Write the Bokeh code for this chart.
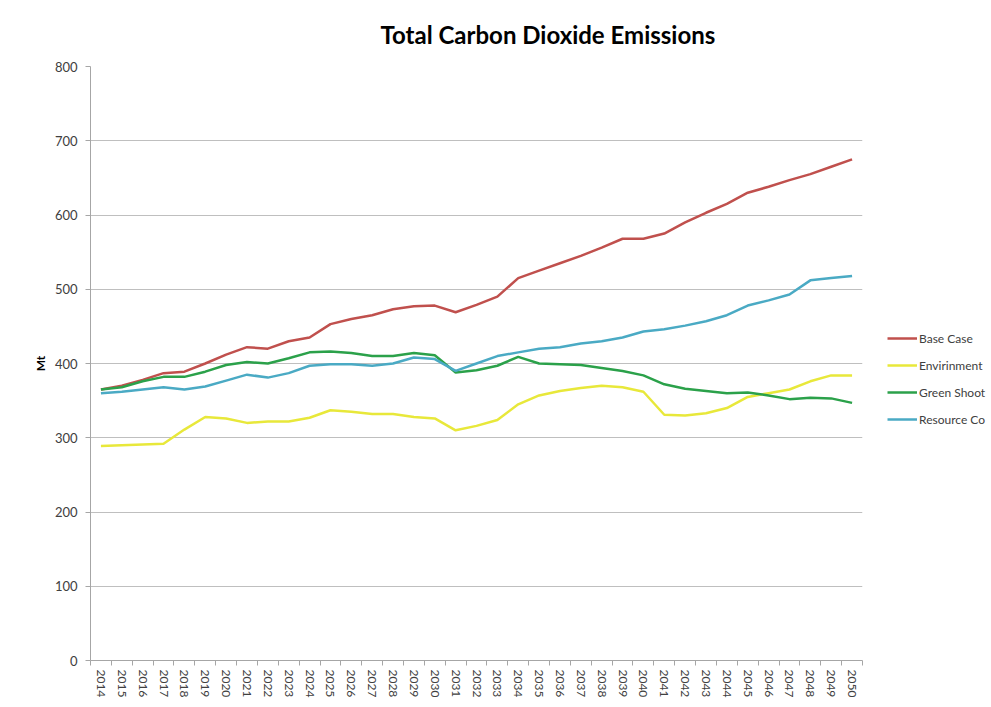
from bokeh.plotting import figure
from bokeh.models import Range1d, FixedTicker, Legend, LegendItem, Title
from bokeh.embed import file_html
from bokeh.resources import INLINE

years = list(range(2014, 2051))
base_case = [365, 370, 378, 387, 389, 400, 412, 422, 420, 430, 435, 453, 460, 465, 473, 477, 478,
             469, 479, 490, 515, 525, 535, 545, 556, 568, 568, 575, 590, 603, 615, 630, 638, 647,
             655, 665, 675]
envirinment = [289, 290, 291, 292, 311, 328, 326, 320, 322, 322, 327, 337, 335, 332, 332, 328, 326,
               310, 316, 324, 345, 357, 363, 367, 370, 368, 362, 331, 330, 333, 340, 355, 360, 365,
               376, 384, 384]
green_shoots = [365, 368, 376, 382, 382, 389, 398, 402, 400, 407, 415, 416, 414, 410, 410, 414, 411,
                388, 391, 397, 409, 400, 399, 398, 394, 390, 384, 372, 366, 363, 360, 361, 357, 352,
                354, 353, 347]
resource_co = [360, 362, 365, 368, 365, 369, 377, 385, 381, 387, 397, 399, 399, 397, 400, 408, 406,
               390, 400, 410, 415, 420, 422, 427, 430, 435, 443, 446, 451, 457, 465, 478, 485, 493,
               512, 515, 518]
series_names = ["Base Case", "Envirinment", "Green Shoot", "Resource Co"]
series_colors = ["#c0504d", "#e8e83a", "#2ba14a", "#4aaac4"]
y_ticks = [0, 100, 200, 300, 400, 500, 600, 700, 800]

FONT = "Lato"

p = figure(frame_width=772, frame_height=594, output_backend="svg", toolbar_location=None,
           x_range=Range1d(years[0] - 0.5, years[-1] + 0.5), y_range=Range1d(0, 800),
           min_border_left=90, min_border_right=121, min_border_top=65, min_border_bottom=40)
p.outline_line_color = None
p.background_fill_color = "white"
p.border_fill_color = "white"

t = Title(text="Total Carbon Dioxide Emissions", align="left", offset=290,
          text_font=FONT, text_font_size="24px", text_font_style="bold", text_color="#000000",
          standoff=35)
p.add_layout(t, "above")

items = []
for name, vals, col in zip(series_names, [base_case, envirinment, green_shoots, resource_co], series_colors):
    r = p.line(years, vals, line_color=col, line_width=2.5)
    items.append(LegendItem(label=name, renderers=[r]))

legend = Legend(items=items, location=(25, 231), padding=0, margin=0, border_line_color=None,
                background_fill_alpha=0, glyph_width=30, glyph_height=20, spacing=7,
                label_standoff=2, label_text_font=FONT, label_text_font_size="12px",
                label_text_color="#404040", label_height=20)
p.add_layout(legend, "right")

# x axis
xa = p.xaxis[0]
xa.ticker = FixedTicker(ticks=years, minor_ticks=[y - 0.5 for y in years] + [years[-1] + 0.5])
xa.major_label_overrides = {y: str(y) for y in years}
xa.major_label_orientation = "vertical"
xa.major_tick_out = 0
xa.major_tick_in = 0
xa.minor_tick_out = 5
xa.minor_tick_in = 0
xa.minor_tick_line_color = "#a6a6a6"
xa.axis_line_color = "#a6a6a6"
xa.major_label_text_font = FONT
xa.major_label_text_font_size = "12px"
xa.major_label_text_color = "#404040"
xa.major_label_standoff = 4

# y axis
ya = p.yaxis[0]
ya.ticker = FixedTicker(ticks=y_ticks)
ya.major_tick_out = 5
ya.major_tick_in = 0
ya.minor_tick_out = 0
ya.minor_tick_in = 0
ya.major_tick_line_color = "#a6a6a6"
ya.axis_line_color = "#a6a6a6"
ya.major_label_text_font = FONT
ya.major_label_text_font_size = "13px"
ya.major_label_text_color = "#404040"
ya.major_label_standoff = 8
ya.axis_label = "Mt"
ya.axis_label_text_font = FONT
ya.axis_label_text_font_size = "12px"
ya.axis_label_text_font_style = "bold"
ya.axis_label_text_color = "#000000"
ya.axis_label_standoff = 4

p.xgrid.grid_line_color = None
p.ygrid.grid_line_color = "#bfbfbf"
p.ygrid.grid_line_width = 1.2

open("out.html", "w").write(file_html(p, INLINE))
